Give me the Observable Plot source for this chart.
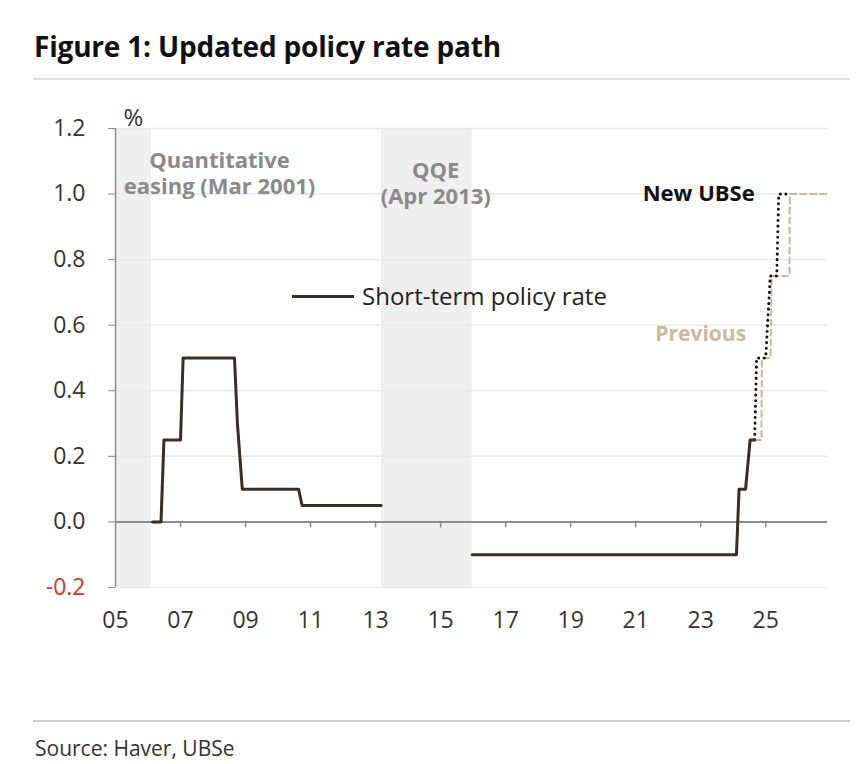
<!DOCTYPE html>
<html>
<head>
<meta charset="utf-8">
<script src="https://cdn.jsdelivr.net/npm/d3@7"></script>
<script src="https://cdn.jsdelivr.net/npm/@observablehq/plot@0.6"></script>
<style>
  html, body { margin: 0; padding: 0; background: #fff; }
  #wrap { position: relative; width: 865px; height: 764px; font-family: "Open Sans", sans-serif; color: #111; }
  #title { position: absolute; left: 34px; top: 27px; font-size: 28px; font-weight: 700; line-height: 38px; color: #111; letter-spacing: -0.2px; }
  #toprule { position: absolute; left: 33px; right: 15px; top: 78px; height: 0; border-top: 2px solid #e0e0e0; }
  #plot { position: absolute; left: 0; top: 90px; }
  #legend { position: absolute; left: 292px; top: 280px; display: flex; align-items: center; font-size: 24px; line-height: 32px; color: #222; }
  #legend .swatch { width: 62px; height: 0; border-top: 3px solid #3a2c27; margin-right: 8px; }
  #botrule { position: absolute; left: 33px; right: 15px; top: 720px; height: 0; border-top: 2px solid #cfcfcf; }
  #source { position: absolute; left: 35px; top: 734px; font-size: 21px; line-height: 28px; color: #333; }
</style>
</head>
<body>
<div id="wrap">
  <div id="title">Figure 1: Updated policy rate path</div>
  <div id="toprule"></div>
  <div id="plot"></div>
  <div id="legend"><div class="swatch"></div><span>Short-term policy rate</span></div>
  <div id="botrule"></div>
  <div id="source">Source: Haver, UBSe</div>
</div>
<script>
// ---- Data (decimal years) ----
const rateDates  = [2006.14, 2006.40, 2006.49, 2007.00, 2007.08, 2008.66, 2008.75, 2008.90, 2010.63, 2010.74, 2013.17, null, 2015.97, 2024.10, 2024.18, 2024.38, 2024.52, 2024.66];
const rateValues = [0, 0, 0.25, 0.25, 0.50, 0.50, 0.30, 0.10, 0.10, 0.05, 0.05, null, -0.10, -0.10, 0.10, 0.10, 0.25, 0.25];

const newDates   = [2024.66, 2024.72, 2025.00, 2025.14, 2025.34, 2025.40, 2025.62];
const newValues  = [0.25, 0.50, 0.50, 0.75, 0.75, 1.00, 1.00];

const prevDates  = [2024.66, 2024.87, 2024.88, 2025.15, 2025.18, 2025.73, 2025.74, 2026.90];
const prevValues = [0.25, 0.25, 0.50, 0.50, 0.75, 0.75, 1.00, 1.00];

const shadeStart = [2005.00, 2013.18];
const shadeEnd   = [2006.11, 2015.97];
const shadeLabels = ["Quantitative\neasing (Mar 2001)", "QQE\n(Apr 2013)"];

const xTickYears = [2005, 2007, 2009, 2011, 2013, 2015, 2017, 2019, 2021, 2023, 2025];
const yTicks     = [-0.2, 0, 0.2, 0.4, 0.6, 0.8, 1.0, 1.2];

// ---- Build tables ----
const rate = rateDates.map((d, i) => ({x: d, y: rateValues[i]}));
const newPath = newDates.map((d, i) => ({x: d, y: newValues[i]}));
const prevPath = prevDates.map((d, i) => ({x: d, y: prevValues[i]}));
const shades = shadeStart.map((s, i) => ({x1: s, x2: shadeEnd[i], label: shadeLabels[i]}));

const fmtY = d => d.toFixed(1).replace("−", "-");

const chart = Plot.plot({
  width: 865,
  height: 547,
  marginLeft: 115,
  marginRight: 38,
  marginTop: 38,
  marginBottom: 50,
  x: {domain: [2005, 2026.9]},
  y: {domain: [-0.2, 1.2]},
  style: {fontFamily: "Open Sans, sans-serif", fontSize: "23px", color: "#333", background: "transparent", overflow: "visible"},
  marks: [
    Plot.rect(shades, {x1: "x1", x2: "x2", fill: "#efefef"}),
    Plot.ruleY(yTicks.filter(d => d !== 0), {stroke: "#e9e9e9", strokeWidth: 1.5}),
    Plot.ruleY([0], {stroke: "#8c8c8c", strokeWidth: 2}),
    Plot.ruleX(xTickYears.slice(1), {x: d => d, y1: 0, y2: 0, insetBottom: -6, stroke: "#8c8c8c", strokeWidth: 1.5}),
    Plot.ruleX([2005], {stroke: "#8c8c8c", strokeWidth: 1.5}),
    Plot.axisY({ticks: yTicks.filter(d => d >= 0), label: null, tickSize: 7, tickPadding: 23, stroke: "#8c8c8c", fill: "#333", tickFormat: fmtY}),
    Plot.axisY({ticks: yTicks.filter(d => d < 0), label: null, tickSize: 7, tickPadding: 23, stroke: "#8c8c8c", fill: "#d8342c", tickFormat: fmtY}),
    Plot.axisX({ticks: xTickYears, label: null, tickSize: 0, tickPadding: 24, fill: "#333", tickFormat: d => String(d).slice(2)}),
    Plot.text(["%"], {x: 2005, y: 1.2, dx: 8, dy: -10, textAnchor: "start", fontSize: 24, fill: "#333"}),
    // annotations for shaded periods
    Plot.text([shades[0]], {x: 2008.2, y: 1.064, text: "label", fontWeight: 700, fontSize: 22, fill: "#8a8a8a", lineHeight: 1.18}),
    Plot.text([shades[1]], {x: 2014.85, y: 1.034, text: "label", fontWeight: 700, fontSize: 22, fill: "#8a8a8a", lineHeight: 1.18}),
    // projections
    Plot.line(prevPath, {x: "x", y: "y", stroke: "#c7b796", strokeWidth: 2, strokeDasharray: "6,4"}),
    Plot.line(newPath, {x: "x", y: "y", stroke: "#111", strokeWidth: 3, strokeDasharray: "0.1,5.5", strokeLinecap: "round"}),
    // actual
    Plot.line(rate, {x: "x", y: "y", stroke: "#3a2c27", strokeWidth: 3}),
    Plot.text(["New UBSe"], {x: 2024.66, y: 1.0, textAnchor: "end", fontWeight: 700, fontSize: 22, fill: "#111"}),
    Plot.text(["Previous"], {x: 2023.0, y: 0.573, fontWeight: 700, fontSize: 21, fill: "#c9bb9c"})
  ]
});
document.getElementById("plot").appendChild(chart);
</script>
</body>
</html>
